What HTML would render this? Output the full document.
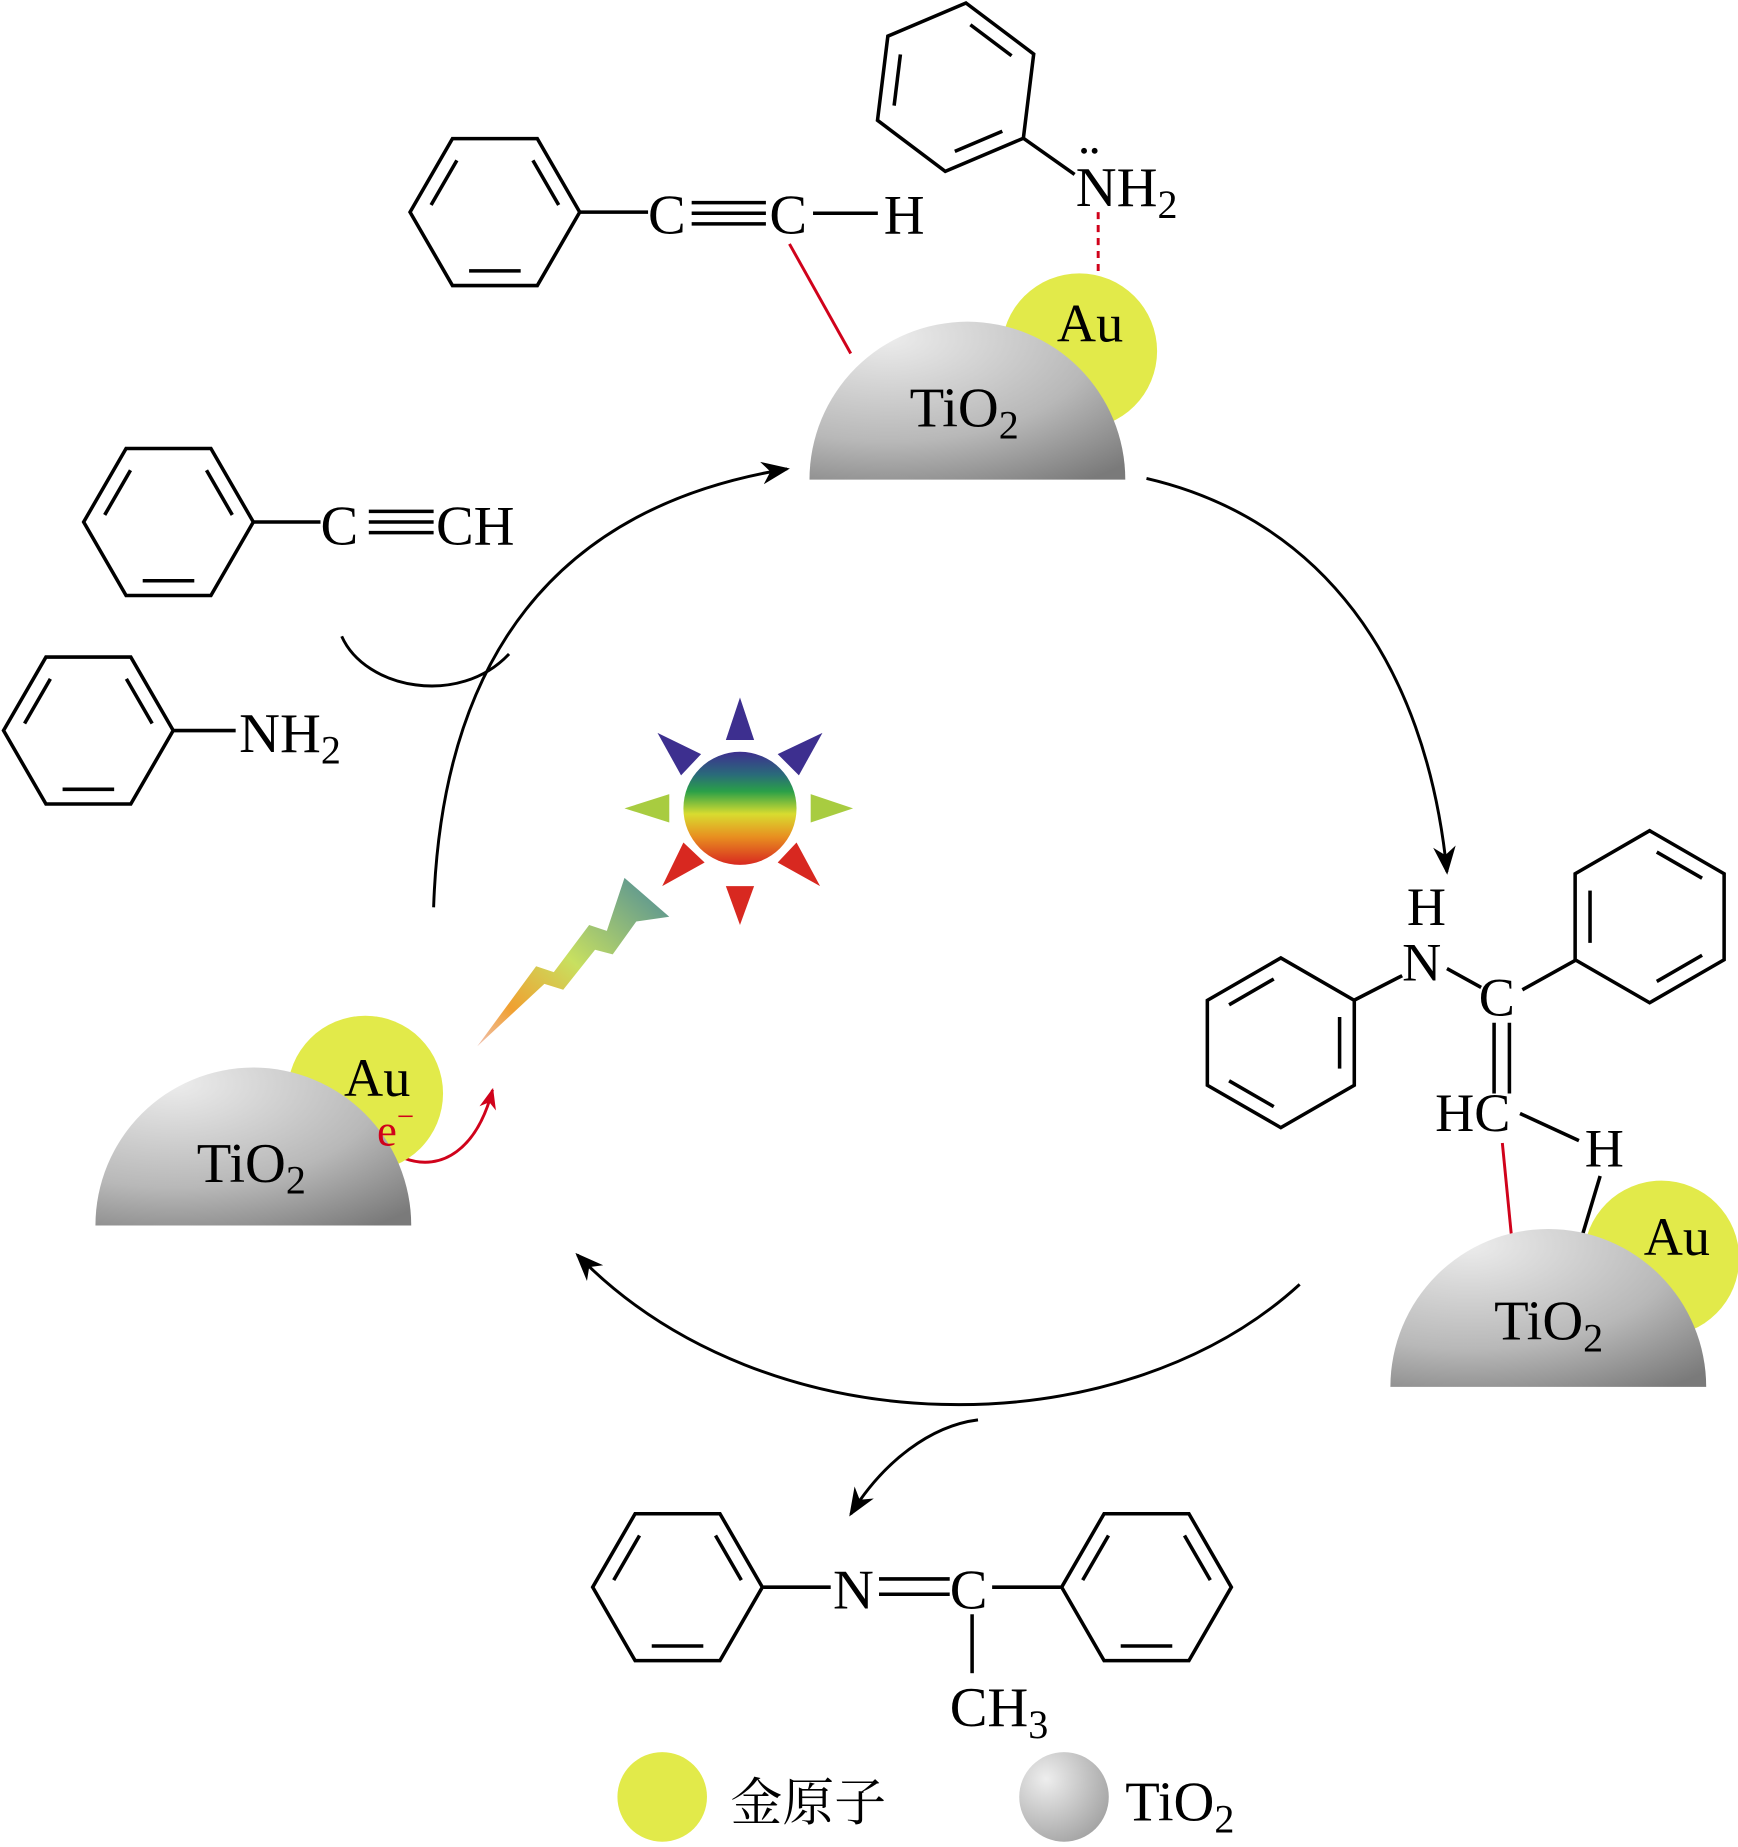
<!DOCTYPE html>
<html><head><meta charset="utf-8"><style>html,body{margin:0;padding:0;background:#fff}svg{display:block}
svg text{font-family:"Liberation Serif","Noto Serif CJK SC",serif}</style></head>
<body>
<svg id="s" width="1738" height="1847" viewBox="0 0 1475 1567.5" preserveAspectRatio="none" xmlns="http://www.w3.org/2000/svg">
<defs>
<radialGradient id="dome" cx="0.25" cy="0.1" r="1.1">
<stop offset="0" stop-color="#ececec"/><stop offset="0.6" stop-color="#b8b8b8"/><stop offset="1" stop-color="#7a7a7a"/></radialGradient>
<radialGradient id="ball" cx="0.3" cy="0.3" r="0.9"><stop offset="0" stop-color="#eee"/><stop offset="1" stop-color="#999"/></radialGradient>
<linearGradient id="sun" x1="0" y1="0" x2="0" y2="1">
<stop offset="0" stop-color="#3d2f8f"/><stop offset="0.2" stop-color="#2a6a7a"/><stop offset="0.35" stop-color="#2aa048"/><stop offset="0.55" stop-color="#d8dc30"/><stop offset="0.75" stop-color="#e89020"/><stop offset="1" stop-color="#d82820"/></linearGradient>
<linearGradient id="bolt" x1="1" y1="0" x2="0" y2="1">
<stop offset="0" stop-color="#4a8a9a"/><stop offset="0.5" stop-color="#c8e060"/><stop offset="0.8" stop-color="#f0a030"/><stop offset="1" stop-color="#f0c0b0"/></linearGradient>
<marker id="ar2" viewBox="0 0 10 10" refX="9" refY="5" markerWidth="24" markerHeight="24" orient="auto" markerUnits="userSpaceOnUse"><path d="M0,1 L10,5 L0,9 L3,5z" fill="#000"/></marker>
<marker id="arr" viewBox="0 0 10 10" refX="9" refY="5" markerWidth="18" markerHeight="18" orient="auto" markerUnits="userSpaceOnUse"><path d="M0,1 L10,5 L0,9 L3,5z" fill="#d0021b"/></marker>
</defs>
<g id="hexes" stroke="#000" stroke-width="3" fill="none"></g>

<g stroke="#000" stroke-width="2.5" fill="none">
<path d="M368,770 C375,560 470,430 668,398" marker-end="url(#ar2)"/>
<path d="M973,406 C1120,440 1210,560 1228,740" marker-end="url(#ar2)"/>
<path d="M1103,1090 C950,1230 650,1230 490,1065" marker-end="url(#ar2)"/>
<path d="M830,1205 C790,1210 750,1240 722,1285" marker-end="url(#ar2)"/>
<path d="M290,540 C310,585 390,600 432,555"/>
</g>

<g stroke="#000" stroke-width="3">
<line x1="492" y1="180" x2="550" y2="180"/>
<line x1="587" y1="172" x2="650" y2="172"/><line x1="587" y1="181" x2="650" y2="181"/><line x1="587" y1="190" x2="650" y2="190"/>
<line x1="690" y1="181" x2="745" y2="181"/>
<line x1="868" y1="117" x2="912" y2="148"/>
<line x1="215" y1="443" x2="272" y2="443"/>
<line x1="313" y1="434" x2="368" y2="434"/><line x1="313" y1="443" x2="368" y2="443"/><line x1="313" y1="452" x2="368" y2="452"/>
<line x1="147" y1="620" x2="200" y2="620"/>
<line x1="1337" y1="815" x2="1292" y2="840"/>
<line x1="1149" y1="849" x2="1190" y2="828"/>
<line x1="1228" y1="822" x2="1257" y2="838"/>
<line x1="1268" y1="868" x2="1268" y2="928"/><line x1="1281" y1="868" x2="1281" y2="928"/>
<line x1="1290" y1="945" x2="1340" y2="968"/>
<line x1="648" y1="1347" x2="705" y2="1347"/>
<line x1="746" y1="1340" x2="806" y2="1340"/><line x1="746" y1="1353" x2="806" y2="1353"/>
<line x1="842" y1="1347" x2="900" y2="1347"/>
<line x1="825" y1="1370" x2="825" y2="1420"/>
</g>
<g stroke="#d0021b" stroke-width="2.5" fill="none">
<line x1="670" y1="207" x2="722" y2="300"/>
<line x1="932" y1="180" x2="932" y2="238" stroke-dasharray="6,5"/>
<line x1="1275" y1="970" x2="1285" y2="1072"/>
<path d="M343,983 C375,995 405,975 418,925" marker-end="url(#arr)"/>
</g>

<circle cx="916" cy="298" r="66" fill="#e2ea4a"/>
<path d="M687,407 A134,134 0 0 1 955,407 Z" fill="url(#dome)"/>
<circle cx="310" cy="928" r="66" fill="#e2ea4a"/>
<path d="M81,1040 A134,134 0 0 1 349,1040 Z" fill="url(#dome)"/>
<circle cx="1410" cy="1068" r="66" fill="#e2ea4a"/>
<line x1="1358" y1="998" x2="1337" y2="1068" stroke="#000" stroke-width="3"/>
<path d="M1180,1177 A134,134 0 0 1 1448,1177 Z" fill="url(#dome)"/>

<g>
<circle cx="628" cy="686" r="48" fill="url(#sun)"/>
<polygon points="628,592 640,628 616,628" fill="#3d2f8f"/>
<polygon points="628,785 640,752 616,752" fill="#d82820"/>
<polygon points="530,686 568,674 568,698" fill="#a8cc40"/>
<polygon points="724,686 688,674 688,698" fill="#a8cc40"/>
<polygon points="558,622 595,640 578,658" fill="#3d2f8f"/>
<polygon points="698,622 660,640 678,658" fill="#3d2f8f"/>
<polygon points="562,752 580,715 598,732" fill="#d82820"/>
<polygon points="696,752 676,715 660,732" fill="#d82820"/>
<polygon points="405,888 455,820 470,825 500,785 515,790 530,745 568,778 540,782 520,810 505,806 478,840 462,835" fill="url(#bolt)"/>
</g>

<g font-size="48" fill="#000">
<text x="550" y="198">C</text><text x="653" y="198">C</text><text x="750" y="198">H</text>
<text x="913" y="175">NH<tspan font-size="34" dy="10">2</tspan></text>
<circle cx="920" cy="128" r="2.5" fill="#000"/><circle cx="929" cy="128" r="2.5" fill="#000"/>
<text x="897" y="290" font-size="46">Au</text>
<text x="772" y="362">TiO<tspan font-size="34" dy="10">2</tspan></text>
<text x="272" y="462">C</text><text x="370" y="462">CH</text>
<text x="203" y="638">NH<tspan font-size="34" dy="10">2</tspan></text>
<text x="292" y="930" font-size="46">Au</text>
<text x="320" y="972" font-size="38" fill="#d0021b">e<tspan font-size="26" dy="-16">−</tspan></text>
<text x="167" y="1003">TiO<tspan font-size="34" dy="10">2</tspan></text>
<text x="1194" y="785" font-size="46">H</text>
<text x="1190" y="832" font-size="46">N</text>
<text x="1255" y="862" font-size="46">C</text>
<text x="1218" y="960" font-size="46">HC</text>
<text x="1345" y="990" font-size="46">H</text>
<text x="1395" y="1065" font-size="46">Au</text>
<text x="1268" y="1137">TiO<tspan font-size="34" dy="10">2</tspan></text>
<text x="707" y="1365">N</text><text x="806" y="1365">C</text>
<text x="806" y="1465">CH<tspan font-size="34" dy="10">3</tspan></text>
<text x="620" y="1545" font-size="44">金原子</text>
<text x="955" y="1545">TiO<tspan font-size="34" dy="10">2</tspan></text>
</g>
<circle cx="562" cy="1525" r="38" fill="#e2ea4a"/>
<circle cx="903" cy="1525" r="38" fill="url(#ball)"/>
</svg>
<script>
var g=document.getElementById('hexes');
function hex(cx,cy,r,a0,edges){
 var p=[],q=[];
 for(var k=0;k<6;k++){var a=(a0+60*k)*Math.PI/180;p.push([cx+r*Math.cos(a),cy+r*Math.sin(a)]);q.push([cx+0.8*r*Math.cos(a),cy+0.8*r*Math.sin(a)]);}
 var s='<polygon points="'+p.map(function(v){return v.join(',')}).join(' ')+'"/>';
 edges.forEach(function(e){var A=q[e],B=q[(e+1)%6];var dx=B[0]-A[0],dy=B[1]-A[1];
 s+='<line x1="'+(A[0]+dx*0.12)+'" y1="'+(A[1]+dy*0.12)+'" x2="'+(B[0]-dx*0.12)+'" y2="'+(B[1]-dy*0.12)+'"/>';});
 g.innerHTML+=s;
}
hex(420,180,72,0,[1,3,5]);
hex(811,74,72,-83,[0,2,4]);
hex(143,443,72,0,[1,3,5]);
hex(75,620,72,0,[1,3,5]);
hex(1400,778,73,-90,[0,2,4]);
hex(1087,885,72,-90,[1,3,5]);
hex(575,1347,72,0,[1,3,5]);
hex(973,1347,72,0,[1,3,5]);
</script>
</body></html>
